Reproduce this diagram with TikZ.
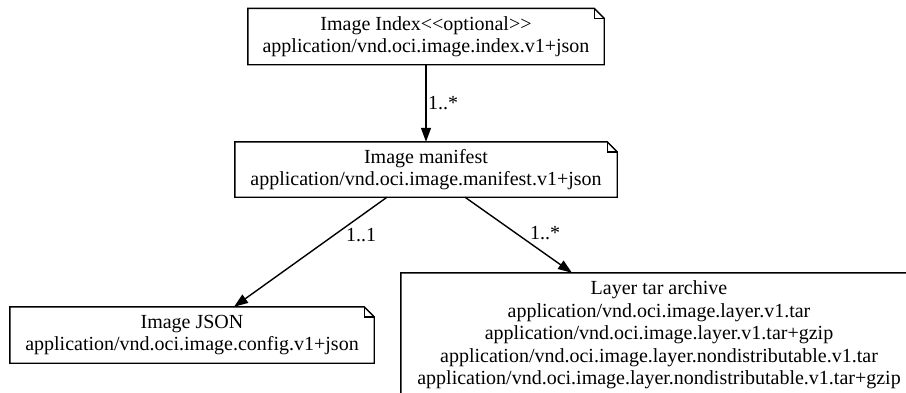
\documentclass[tikz,border=0pt]{standalone}
\usepackage{fontspec}
\setmainfont{Liberation Serif}
\usetikzlibrary{arrows.meta}
\tikzset{
  notebox/.style={draw=none, inner sep=0pt, align=center,
    font=\fontsize{20}{22.5}\selectfont},
  lbl/.style={inner sep=0pt, font=\fontsize{20}{22.5}\selectfont},
  conn/.style={line width=1.4pt, -{Triangle[length=14pt,width=10pt]}},
  outline/.style={line width=1.4pt, line join=miter},
}
\begin{document}
\begin{tikzpicture}[x=1pt,y=-1pt]
\useasboundingbox (0,0) rectangle (906,392);
\clip (0,0) rectangle (906,392);
\node[notebox, minimum width=356pt, minimum height=56pt] (idx) at (426,36.5)
  {Image Index{<}{<}optional{>}{>}\\application/vnd.oci.image.index.v1+json};
\node[notebox, minimum width=382pt, minimum height=55pt] (man) at (426,169.5)
  {Image manifest\\application/vnd.oci.image.manifest.v1+json};
\node[notebox, minimum width=364pt, minimum height=56pt] (json) at (192,335)
  {Image JSON\\application/vnd.oci.image.config.v1+json};
\node[notebox, minimum width=516pt, minimum height=124pt] (layer) at (659,335)
  {Layer tar archive\\application/vnd.oci.image.layer.v1.tar\\application/vnd.oci.image.layer.v1.tar+gzip\\application/vnd.oci.image.layer.nondistributable.v1.tar\\application/vnd.oci.image.layer.nondistributable.v1.tar+gzip};
\foreach \n in {idx,man,json,layer}{
  \draw[outline] (\n.north west) -- ([xshift=-10pt]\n.north east)
    -- ([yshift=-10pt]\n.north east) -- (\n.south east) -- (\n.south west) -- cycle;
  \draw[outline] ([xshift=-10pt]\n.north east) -- ([xshift=-10pt,yshift=-10pt]\n.north east)
    -- ([yshift=-10pt]\n.north east);
}
\draw[conn] (idx.south) -- (man.north);
\draw[conn] ([xshift=-39pt]man.south) -- ([xshift=42pt]json.north);
\draw[conn] ([xshift=39pt]man.south) -- ([xshift=-87pt]layer.north);
\node[lbl] (l1) at (443,103) {1..*};
\node[lbl] (l2) at (361,235) {1..1};
\node[lbl] (l3) at (545,233) {1..*};
\end{tikzpicture}
\end{document}
